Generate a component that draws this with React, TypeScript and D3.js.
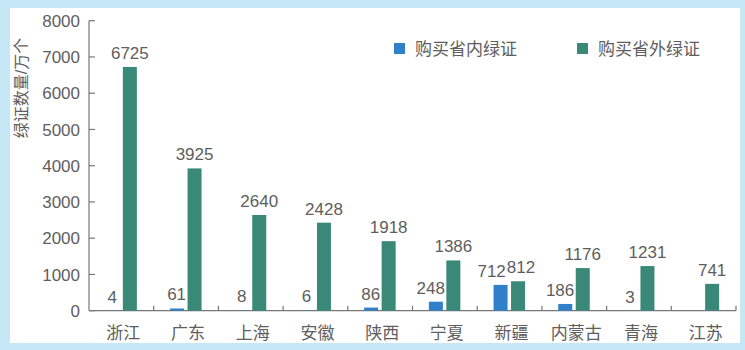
import React, { useEffect, useRef } from 'react'
import * as d3 from 'd3'

const provinces = ['浙江', '广东', '上海', '安徽', '陕西', '宁夏', '新疆', '内蒙古', '青海', '江苏']
const inside = [4, 61, 8, 6, 86, 248, 712, 186, 3, null]
const outside = [6725, 3925, 2640, 2428, 1918, 1386, 812, 1176, 1231, 741]
const seriesNames = ['购买省内绿证', '购买省外绿证']
const yTicks = [0, 1000, 2000, 3000, 4000, 5000, 6000, 7000, 8000]

const W = 745
const H = 350
const FONT = '"Liberation Sans", Arial, "Noto Sans CJK SC", sans-serif'
const TEXT = '#5e5e5e'
const colors = ['#2f80c8', '#3a8878']

const App = () => {
  const ref = useRef<SVGSVGElement>(null)

  useEffect(() => {
    const svg = d3.select(ref.current)
    svg.selectAll('*').remove()

    svg.append('rect').attr('width', W).attr('height', H).attr('fill', '#c6e7f6')
    svg.append('rect').attr('x', 10).attr('y', 8).attr('width', 730).attr('height', 335).attr('fill', '#ffffff')

    const left = 89
    const right = 736
    const bottom = 310.7
    const top = 20.7

    const y = d3.scaleLinear().domain([0, 8000]).range([bottom, top])
    const x0 = d3.scaleBand().domain(provinces).range([left, right]).padding(0)
    const bw = x0.bandwidth()
    const x1 = d3.scaleBand().domain(seriesNames).range([bw / 2 - 16, bw / 2 + 15.5]).paddingInner(0.2)

    // axes
    svg.append('line').attr('x1', left).attr('x2', left).attr('y1', top).attr('y2', bottom)
      .attr('stroke', '#777').attr('stroke-width', 1.2)
    svg.append('line').attr('x1', left).attr('x2', right).attr('y1', bottom).attr('y2', bottom)
      .attr('stroke', '#777').attr('stroke-width', 1.2)

    svg.selectAll('.ytick').data(yTicks).enter().append('line')
      .attr('x1', left).attr('x2', left + 6)
      .attr('y1', (d) => y(d)).attr('y2', (d) => y(d))
      .attr('stroke', '#777').attr('stroke-width', 1.2)

    svg.selectAll('.ylab').data(yTicks).enter().append('text')
      .attr('x', 80).attr('y', (d) => y(d)).attr('dy', '0.36em')
      .attr('text-anchor', 'end').attr('font-family', FONT).attr('font-size', 17).attr('fill', TEXT)
      .text((d) => d)

    svg.selectAll('.xtick').data(provinces).enter().append('line')
      .attr('x1', (d) => x0(d)! + bw).attr('x2', (d) => x0(d)! + bw)
      .attr('y1', bottom).attr('y2', bottom - 5)
      .attr('stroke', '#777').attr('stroke-width', 1.2)

    svg.selectAll('.xlab').data(provinces).enter().append('text')
      .attr('x', (d) => x0(d)! + bw / 2 + 2).attr('y', 339)
      .attr('text-anchor', 'middle').attr('font-family', FONT).attr('font-size', 17).attr('fill', TEXT)
      .text((d) => d)

    svg.append('text')
      .attr('transform', `translate(27,${(33 + 143) / 2}) rotate(-90)`)
      .attr('text-anchor', 'middle').attr('font-family', FONT).attr('font-size', 16).attr('fill', TEXT)
      .text('绿证数量/万个')

    const seriesData = [inside, outside]
    const labels: any[][] = [[], []]
    seriesData.forEach((vals, si) => {
      const rows = provinces.map((p, i) => ({ p, v: vals[i] })).filter((r) => r.v != null) as { p: string; v: number }[]
      const g = svg.append('g')
      g.selectAll('rect').data(rows).enter().append('rect')
        .attr('x', (d) => x0(d.p)! + x1(seriesNames[si])!)
        .attr('width', x1.bandwidth())
        .attr('y', (d) => y(d.v))
        .attr('height', (d) => bottom - y(d.v))
        .attr('fill', colors[si])
      rows.forEach((d) => {
        const cx = x0(d.p)! + x1(seriesNames[si])! + x1.bandwidth() / 2
        const t = g.append('text')
          .attr('x', cx)
          .attr('y', y(d.v) - 8)
          .attr('text-anchor', 'middle').attr('font-family', FONT).attr('font-size', 17).attr('fill', TEXT)
          .text(d.v)
        labels[si][provinces.indexOf(d.p)] = { t, cx, v: d.v }
      })
    })

    // keep the inner label clear of the neighbouring bar and label
    provinces.forEach((p, i) => {
      const a = labels[0][i]
      const b = labels[1][i]
      if (!a || !b) return
      const wa = (a.t.node() as SVGTextElement).getComputedTextLength()
      const wb = (b.t.node() as SVGTextElement).getComputedTextLength()
      let ax = a.cx
      let bx = b.cx
      const greenLeft = x0(p)! + x1(seriesNames[1])!
      const aBase = y(a.v) - 8
      if (aBase > y(b.v) && ax + wa / 2 > greenLeft - 1.5) ax = greenLeft - 1.5 - wa / 2
      const bBase = y(b.v) - 8
      if (Math.abs(aBase - bBase) < 16) {
        const over = ax + wa / 2 + 1 - (bx - wb / 2)
        if (over > 0) {
          ax -= over * 0.75
          bx += over * 0.25
        }
      }
      a.t.attr('x', ax)
      b.t.attr('x', bx)
    })

    // legend
    const legendX = [394, 577]
    seriesNames.forEach((name, i) => {
      svg.append('rect').attr('x', legendX[i]).attr('y', 43).attr('width', 11).attr('height', 11).attr('fill', colors[i])
      svg.append('text').attr('x', legendX[i] + 21).attr('y', 49).attr('dy', '0.36em')
        .attr('font-family', FONT).attr('font-size', 17).attr('fill', TEXT)
        .text(name)
    })
  }, [])

  return <svg ref={ref} width={W} height={H} style={{ position: 'absolute', left: 0, top: 0 }}></svg>
}

export default App
